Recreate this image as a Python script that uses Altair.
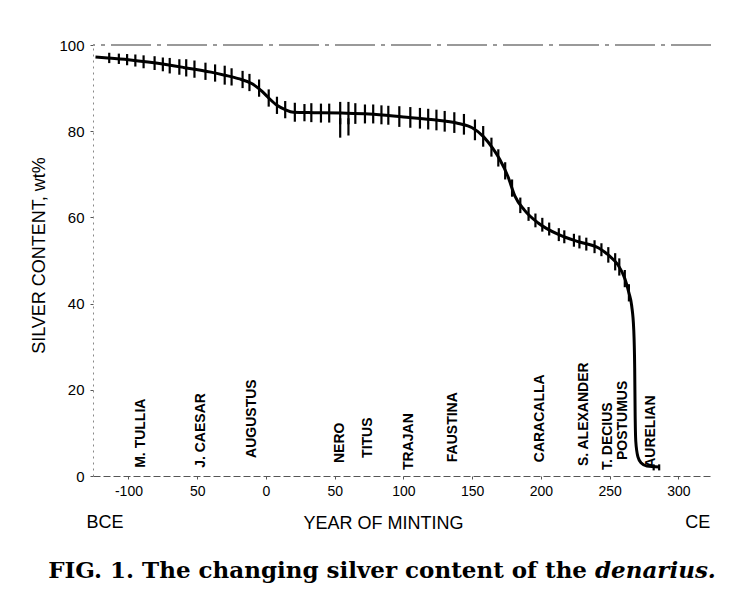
import altair as alt
import pandas as pd

# ---- data ----
curve_year = [-124, -115, -100, -80, -60, -40, -30, -20, -10, -3, 2, 8, 14, 20, 35, 55, 75,
              100, 120, 140, 150, 158, 165, 170, 176, 181, 188, 198, 213, 228, 242, 250,
              256, 261, 264, 266, 267.5, 268.2, 268.5, 269, 270.5, 273, 277, 286]
curve_silver = [97.2, 97.0, 96.6, 95.8, 94.8, 93.7, 93.0, 92.2, 91.0, 89.3, 87.7, 86.0, 85.0,
                84.4, 84.3, 84.2, 84.0, 83.3, 82.7, 81.8, 80.8, 78.8, 76.0, 73.5, 69.5, 65.0,
                61.7, 58.7, 56.0, 54.3, 52.9, 51.0, 49.0, 45.8, 42.5, 39.5, 34.0, 25.0, 15.0,
                8.0, 4.5, 3.0, 2.3, 2.1]

bar_year = [-114, -107, -101, -95, -89, -81, -75, -70, -63, -58, -52, -44, -37, -30, -25, -17,
            -12, -5, 2, 8, 14, 21, 28, 33, 40, 46, 54, 60, 65, 72, 78, 84, 89, 97, 105, 112,
            118, 124, 130, 137, 144, 152, 158, 164, 169, 174, 179, 185, 191, 196, 201, 206,
            213, 217, 224, 228, 233, 239, 244, 249, 254, 257, 261, 264, 282, 286]
bar_silver = [97.0, 96.8, 96.6, 96.4, 96.1, 95.8, 95.5, 95.2, 94.9, 94.7, 94.4, 93.9, 93.5,
              93.0, 92.6, 92.0, 91.3, 90.0, 87.7, 86.0, 85.0, 84.4, 84.3, 84.3, 84.2, 84.2,
              84.2, 84.2, 84.1, 84.0, 84.0, 83.8, 83.7, 83.4, 83.2, 83.0, 82.8, 82.6, 82.3,
              82.0, 81.6, 80.3, 78.8, 76.3, 73.8, 70.8, 66.8, 62.8, 60.8, 59.3, 58.3, 57.3,
              56.0, 55.5, 54.7, 54.3, 53.8, 53.2, 52.5, 51.3, 49.7, 48.5, 45.8, 42.5, 2.0, 2.0]
bar_err = [1.2, 1.2, 1.3, 1.4, 1.5, 1.6, 1.6, 1.8, 1.8, 2.0, 2.0, 2.0, 2.0, 2.2, 2.0, 2.0,
           2.0, 2.0, 2.0, 2.0, 2.0, 2.2, 2.0, 2.2, 2.2, 2.2, 2.6, 2.6, 2.4, 2.2, 2.2, 2.2,
           2.2, 2.4, 2.4, 2.4, 2.4, 2.4, 2.4, 2.4, 2.4, 2.4, 2.4, 2.2, 2.0, 2.0, 2.0, 1.8,
           1.6, 1.6, 1.6, 1.5, 1.5, 1.5, 1.5, 1.5, 1.5, 1.5, 1.5, 1.8, 2.0, 2.0, 2.0, 2.0,
           0.7, 0.7]

# two long individual bars near Nero / Titus
long_year = [54, 60]
long_low = [78.5, 79.0]
long_high = [83.0, 83.0]

emperors = ["M. TULLIA", "J. CAESAR", "AUGUSTUS", "NERO", "TITUS", "TRAJAN", "FAUSTINA",
            "CARACALLA", "S. ALEXANDER", "T. DECIUS", "POSTUMUS", "AURELIAN"]
emperor_year = [-91, -47, -10, 53.5, 74, 104, 136, 199.5, 231.5, 249, 260, 280]
emperor_base = [1.9, 1.9, 4.2, 3.0, 4.2, 1.4, 3.2, 3.2, 2.3, 1.4, 3.7, 1.9]

x_ticks = [-100, -50, 0, 50, 100, 150, 200, 250, 300]
x_tick_labels = ["-100", "50", "0", "50", "100", "150", "200", "250", "300"]
y_ticks = [0, 20, 40, 60, 80, 100]

era_labels = ["BCE", "CE"]
era_year = [-117, 314]

caption_main = "FIG. 1.  The changing silver content of the"
caption_italic = "denarius."

# ---- frames ----
curve_df = pd.DataFrame({"year": curve_year, "silver": curve_silver})
bars_df = pd.DataFrame({"year": bar_year, "silver": bar_silver, "err": bar_err})
bars_df["lo"] = bars_df["silver"] - bars_df["err"]
bars_df["hi"] = bars_df["silver"] + bars_df["err"]
long_df = pd.DataFrame({"year": long_year, "lo": long_low, "hi": long_high})
emp_df = pd.DataFrame({"name": emperors, "year": emperor_year, "base": emperor_base})
era_df = pd.DataFrame({"t": era_labels, "year": era_year})

W, H = 618, 431
FONT = "Liberation Sans"
SERIF = "DejaVu Serif"

label_expr = " : ".join(
    f"datum.value == {v} ? '{l}'" for v, l in zip(x_ticks, x_tick_labels)
) + " : datum.label"

x_scale = alt.Scale(domain=[-125.8, 323.7], nice=False, zero=False)
y_scale = alt.Scale(domain=[0, 100], nice=False)

x_axis = alt.Axis(
    values=x_ticks, labelExpr=label_expr, title="YEAR OF MINTING",
    titleX=290, titleY=38, titleAlign="center", titleBaseline="top",
    titleFont=FONT, titleFontSize=18, titleFontWeight="normal", titleColor="black",
    labelFont=FONT, labelFontSize=14, labelColor="black", labelPadding=5,
    tickSize=3, tickColor="#555", domainColor="#555", domainDash=[7, 3], grid=False,
)
y_axis = alt.Axis(
    values=y_ticks, title="SILVER CONTENT, wt%",
    titleX=-49, titleY=210, titleAngle=270, titleAlign="center", titleBaseline="alphabetic",
    titleFont=FONT, titleFontSize=18, titleFontWeight="normal", titleColor="black",
    labelFont=FONT, labelFontSize=15, labelColor="black", labelPadding=6,
    tickSize=3, tickColor="#555", domainColor="#888", domainDash=[2, 4], grid=False,
)


def X(f="year"):
    return alt.X(f"{f}:Q", scale=x_scale, axis=x_axis)


top_rule = alt.Chart(curve_df).mark_rule(color="#999", strokeWidth=1.3, strokeDash=[40, 6, 4, 6]).encode(
    y=alt.datum(100, scale=y_scale, axis=y_axis)
)

bars = alt.Chart(bars_df).mark_rule(color="black", strokeWidth=2.2).encode(
    x=X(),
    y=alt.Y("lo:Q", scale=y_scale, axis=y_axis),
    y2="hi:Q",
)

long_bars = alt.Chart(long_df).mark_rule(color="black", strokeWidth=2.2).encode(
    x=X(),
    y=alt.Y("lo:Q", scale=y_scale, axis=y_axis),
    y2="hi:Q",
)

line = alt.Chart(curve_df).mark_line(color="black", strokeWidth=3, interpolate="monotone").encode(
    x=X(),
    y=alt.Y("silver:Q", scale=y_scale, axis=y_axis),
)

labels = alt.Chart(emp_df).mark_text(
    angle=270, align="left", baseline="middle", font=FONT, fontSize=14,
    fontWeight="bold", color="black",
).encode(
    x=X(),
    y=alt.Y("base:Q", scale=y_scale, axis=y_axis),
    text="name:N",
)

eras = alt.Chart(era_df).mark_text(
    align="center", baseline="top", font=FONT, fontSize=18, color="black",
).encode(
    x=X(),
    y=alt.value(H + 38),
    text="t:N",
)

cap1 = alt.Chart(pd.DataFrame({"t": [caption_main]})).mark_text(
    align="right", baseline="alphabetic", font=SERIF, fontSize=23,
    fontWeight="bold", color="black",
).encode(x=alt.value(494), y=alt.value(533), text="t:N")

cap2 = alt.Chart(pd.DataFrame({"t": [caption_italic]})).mark_text(
    align="left", baseline="alphabetic", font=SERIF, fontSize=23,
    fontWeight="bold", fontStyle="italic", color="black",
).encode(x=alt.value(502), y=alt.value(533), text="t:N")

chart = alt.layer(top_rule, bars, long_bars, line, labels, eras, cap1, cap2).properties(
    width=W, height=H,
    autosize=alt.AutoSizeParams(type="none"),
    padding={"left": 85, "top": 37, "right": 15, "bottom": 108},
    background="white",
).configure_view(stroke=None)

chart.save("out.html", embed_options={"renderer": "svg", "actions": False})
